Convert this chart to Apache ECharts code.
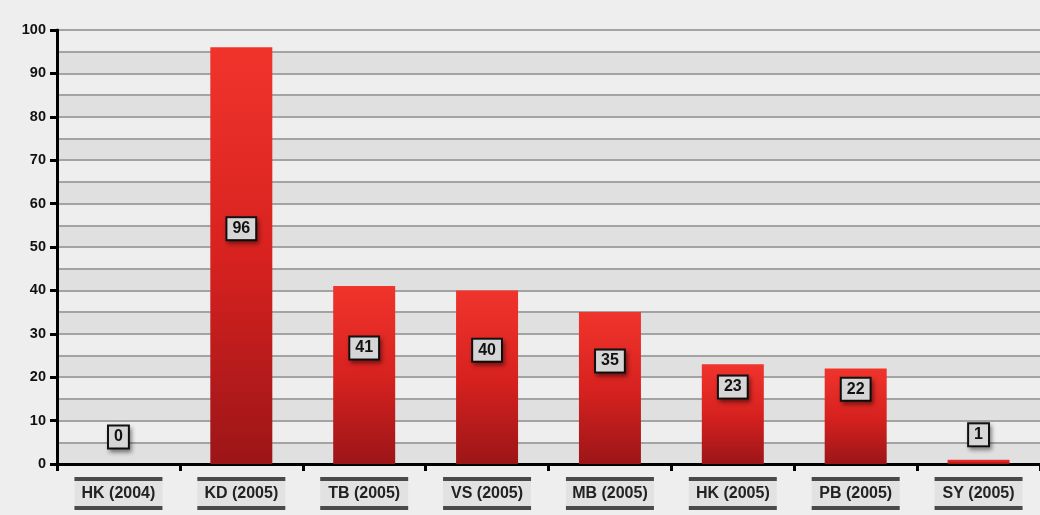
<!DOCTYPE html>
<html><head><meta charset="utf-8">
<script src="https://cdn.jsdelivr.net/npm/echarts@6/dist/echarts.min.js"></script>
<style>html,body{margin:0;padding:0;background:#eeeeee;}#c{width:1040px;height:515px;}</style>
</head><body><div id="c"></div>
<script>
const categories = ['HK (2004)','KD (2005)','TB (2005)','VS (2005)','MB (2005)','HK (2005)','PB (2005)','SY (2005)'];
const values = [0, 96, 41, 40, 35, 23, 22, 1];
const yTicks = [0,10,20,30,40,50,60,70,80,90,100];

const chart = echarts.init(document.getElementById('c'), null, {renderer:'canvas'});
chart.setOption({
  backgroundColor: '#eeeeee',
  animation: false,
  grid: {left: 57, right: 0, top: 30, bottom: 51},
  xAxis: {
    type: 'category', data: categories,
    axisLine: {lineStyle: {color: '#000', width: 3}},
    axisTick: {show: true, length: 7, lineStyle: {color: '#000', width: 3}},
    axisLabel: {
      margin: 13,
      formatter: v => '{l|}\n{t|' + v + '}\n{l|}',
      rich: {
        l: {width: 88, height: 4, backgroundColor: '#4a4a4a'},
        t: {fontFamily: 'Liberation Sans, Arial', fontWeight: 'bold', fontSize: 16, color: '#222', lineHeight: 25, height: 25, width: 88, align: 'center', backgroundColor: '#e2e2e2'}
      }
    }
  },
  yAxis: [{
    type: 'value', min: 0, max: 100, interval: 10,
    axisLine: {show: true, lineStyle: {color: '#000', width: 3}},
    axisTick: {show: true, length: 7, lineStyle: {color: '#000', width: 3}},
    axisLabel: {fontFamily: 'Liberation Sans, Arial', fontWeight: 'bold', fontSize: 14.5, color: '#111', margin: 11,
      formatter: v => yTicks.includes(v) ? String(v) : ''},
    splitLine: {show: false}
  },{
    type: 'value', min: 0, max: 100, interval: 5, position: 'left',
    axisLine: {show: false}, axisTick: {show: false}, axisLabel: {show: false},
    splitLine: {show: true, lineStyle: {color: '#a3a3a3', width: 2}},
    splitArea: {show: true, areaStyle: {color: ['#e0e0e0', '#eeeeee']}}
  }],
  series: [{
    type: 'bar', data: values, barWidth: 62, yAxisIndex: 0, z: 3,
    itemStyle: {color: new echarts.graphic.LinearGradient(0,0,0,1,[
      {offset:0, color:'#f0342c'},{offset:0.5, color:'#d8221f'},{offset:1, color:'#9c1518'}])},
    label: {
      show: true, position: 'inside', offset: [0, -27],
      fontFamily: 'Liberation Sans, Arial', fontWeight: 'bold', fontSize: 16, color: '#111',
      backgroundColor: '#d6d6d6', borderColor: '#111', borderWidth: 2,
      padding: [3, 5, 2, 5],
      shadowColor: 'rgba(0,0,0,0.35)', shadowBlur: 4, shadowOffsetX: 2, shadowOffsetY: 3
    }
  }]
});
</script></body></html>
